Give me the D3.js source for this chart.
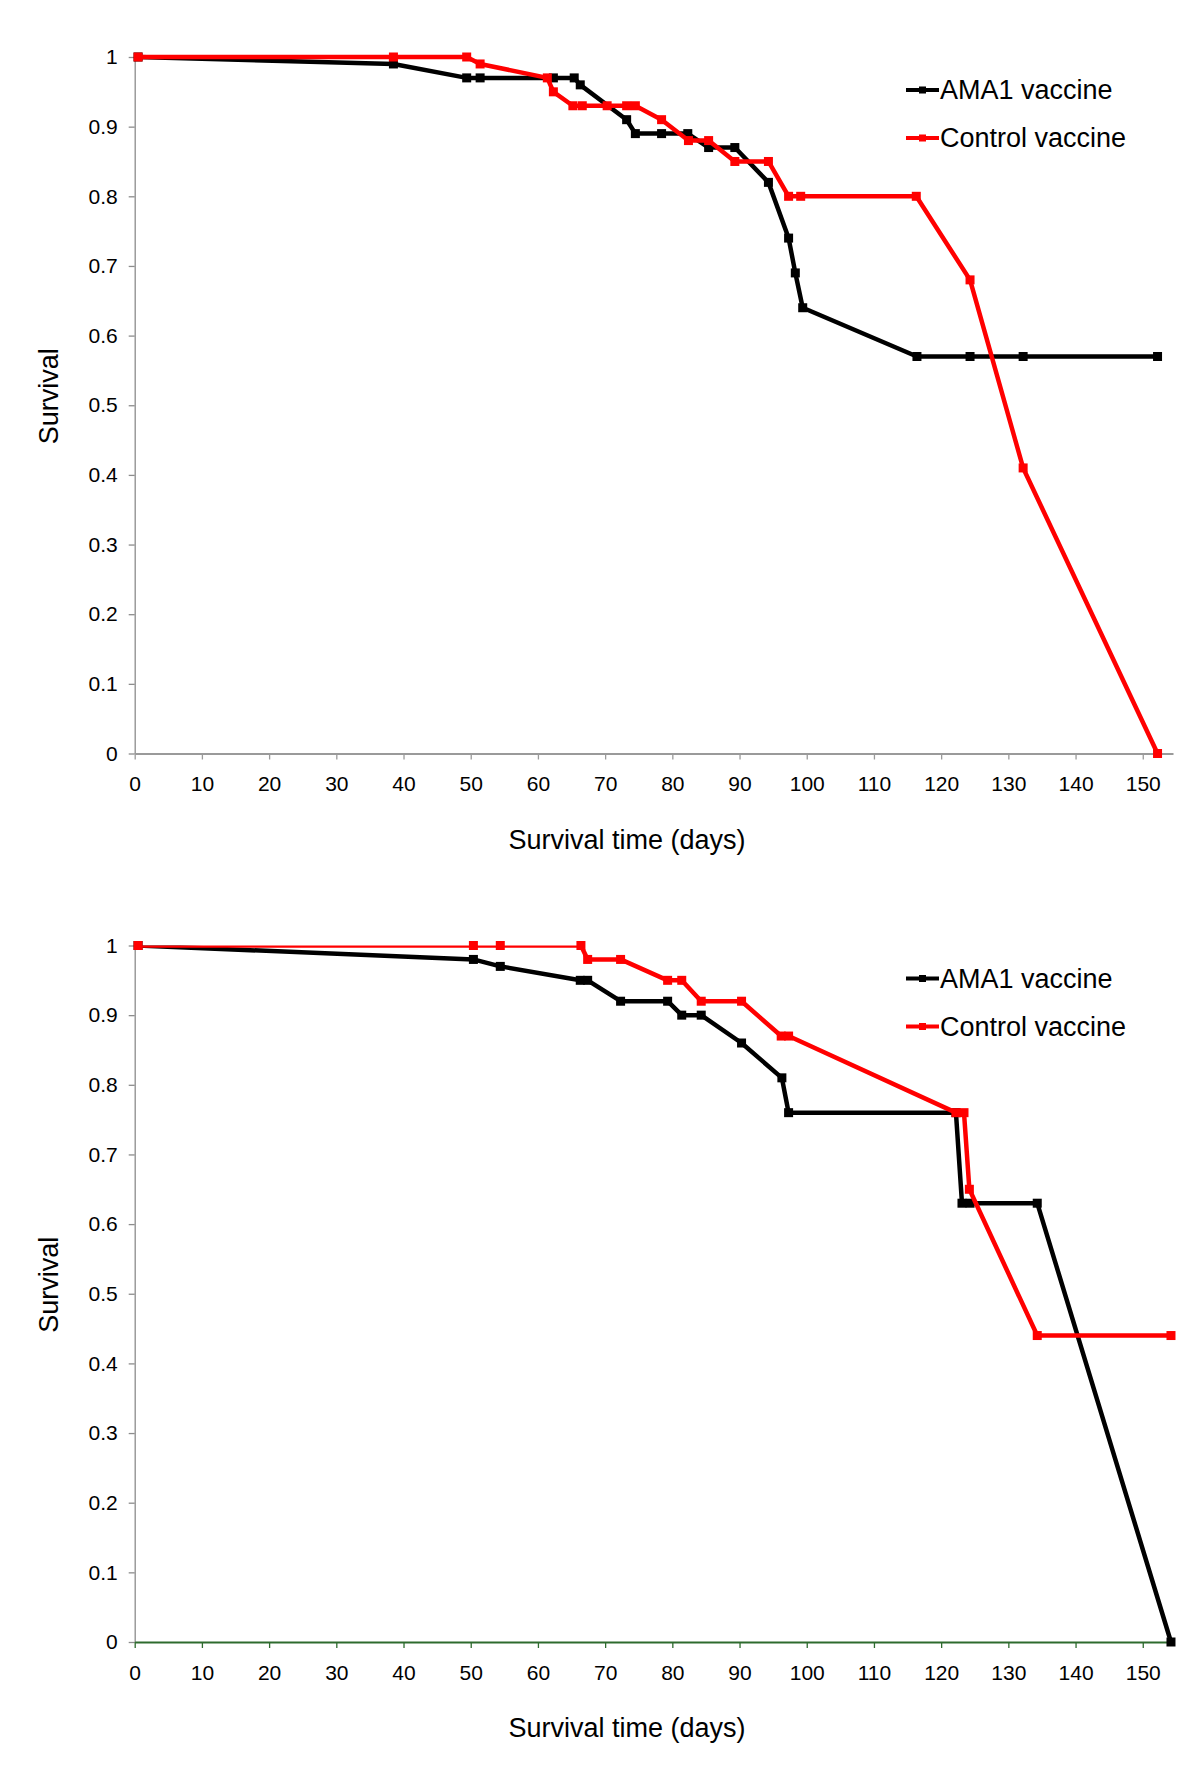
<!DOCTYPE html>
<html>
<head>
<meta charset="utf-8">
<script src="https://cdn.jsdelivr.net/npm/d3@7"></script>
<style>
  body { margin: 0; background: #fff; }
  svg { display: block; font-family: Arial, 'Liberation Sans', sans-serif; }
</style>
</head>
<body>
<svg id="km-chart" width="1200" height="1783"></svg>
<script>
// survival data
const ama1Days1 = [0.5, 38.5, 49.4, 51.4, 62.3, 65.4, 66.3, 73.2, 74.5, 78.4, 82.3, 85.4, 89.3, 94.3, 97.3, 98.3, 99.4, 116.4, 124.3, 132.2, 152.2];
const ama1Surv1 = [1, 0.99, 0.97, 0.97, 0.97, 0.97, 0.96, 0.91, 0.89, 0.89, 0.89, 0.87, 0.87, 0.82, 0.74, 0.69, 0.64, 0.57, 0.57, 0.57, 0.57];
const controlDays1 = [0.5, 38.5, 49.4, 51.4, 61.4, 62.3, 65.2, 66.6, 70.3, 73.2, 74.5, 78.4, 82.4, 85.4, 89.3, 94.3, 97.3, 99.1, 116.3, 124.3, 132.2, 152.2];
const controlSurv1 = [1, 1, 1, 0.99, 0.97, 0.95, 0.93, 0.93, 0.93, 0.93, 0.93, 0.91, 0.88, 0.88, 0.85, 0.85, 0.8, 0.8, 0.8, 0.68, 0.41, 0];

const ama1Days2 = [0.5, 50.4, 54.4, 66.3, 67.4, 72.3, 79.3, 81.4, 84.3, 90.3, 96.3, 97.3, 122.2, 123.1, 124.3, 134.3, 154.2];
const ama1Surv2 = [1, 0.98, 0.97, 0.95, 0.95, 0.92, 0.92, 0.9, 0.9, 0.86, 0.81, 0.76, 0.76, 0.63, 0.63, 0.63, 0];
const controlDays2 = [0.5, 50.4, 54.4, 66.4, 67.4, 72.3, 79.3, 81.4, 84.3, 90.3, 96.2, 97.3, 122.2, 123.4, 124.2, 134.3, 154.2];
const controlSurv2 = [1, 1, 1, 1, 0.98, 0.98, 0.95, 0.95, 0.92, 0.92, 0.87, 0.87, 0.76, 0.76, 0.65, 0.44, 0.44];

const seriesNames = ['AMA1 vaccine', 'Control vaccine'];
const seriesColors = ['#000000', '#ff0000'];
const xTicks = [0, 10, 20, 30, 40, 50, 60, 70, 80, 90, 100, 110, 120, 130, 140, 150];
const yTicks = [0, 0.1, 0.2, 0.3, 0.4, 0.5, 0.6, 0.7, 0.8, 0.9, 1];
const yTickLabels = ['0', '0.1', '0.2', '0.3', '0.4', '0.5', '0.6', '0.7', '0.8', '0.9', '1'];

const svg = d3.select('#km-chart');

const x = d3.scaleLinear().domain([0, 154.5]).range([134.7, 1173]);

const zip = (days, surv) => days.map((d, i) => ({ day: d, surv: surv[i] }));

function drawPanel(id, top, bottom, series, xAxisColor, clipTop) {
  const y = d3.scaleLinear().domain([0, 1]).range([bottom, top]);
  const g = svg.append('g').attr('class', 'panel-' + id);

  // y axis
  const yAxis = g
    .append('g')
    .attr('transform', `translate(${x(0)},0)`)
    .call(
      d3.axisLeft(y)
        .tickValues(yTicks)
        .tickFormat((d, i) => yTickLabels[i])
        .tickSize(6)
        .tickSizeOuter(0)
        .tickPadding(11)
    );
  yAxis.select('.domain').attr('stroke', '#8c8c8c').attr('stroke-width', 1.3);
  yAxis.selectAll('.tick line').attr('stroke', '#8c8c8c').attr('stroke-width', 1.3);
  yAxis.selectAll('.tick text').attr('font-size', 21).attr('fill', '#000');

  // x axis
  const xAxis = g
    .append('g')
    .attr('transform', `translate(0,${bottom})`)
    .call(
      d3.axisBottom(x)
        .tickValues(xTicks)
        .tickSize(6)
        .tickSizeOuter(0)
        .tickPadding(17)
    );
  xAxis.select('.domain').attr('stroke', xAxisColor).attr('stroke-width', 2);
  xAxis.selectAll('.tick line').attr('stroke', xAxisColor).attr('stroke-width', 1.3);
  xAxis.selectAll('.tick text').attr('font-size', 21).attr('fill', '#000');

  // axis titles
  g.append('text')
    .attr('x', 627)
    .attr('y', bottom + 95)
    .attr('text-anchor', 'middle')
    .attr('font-size', 27)
    .text('Survival time (days)');

  g.append('text')
    .attr('transform', `translate(49,${(top + bottom) / 2 - 9}) rotate(-90)`)
    .attr('text-anchor', 'middle')
    .attr('dominant-baseline', 'central')
    .attr('font-size', 27)
    .text('Survival');

  // clip region, bottom panel line at 1 is cut in half in the original
  const clipId = 'clip-' + id;
  g.append('clipPath')
    .attr('id', clipId)
    .append('rect')
    .attr('x', 0)
    .attr('y', clipTop ? top : 0)
    .attr('width', 1200)
    .attr('height', 1783);

  const line = d3
    .line()
    .x((d) => x(d.day))
    .y((d) => y(d.surv));

  series.forEach((s, k) => {
    g.append('path')
      .datum(s)
      .attr('fill', 'none')
      .attr('stroke', seriesColors[k])
      .attr('stroke-width', 4.5)
      .attr('stroke-linejoin', 'round')
      .attr('clip-path', `url(#${clipId})`)
      .attr('d', line);

    g.append('g')
      .selectAll('rect')
      .data(s)
      .enter()
      .append('rect')
      .attr('x', (d) => x(d.day) - 4.5)
      .attr('y', (d) => y(d.surv) - 4.5)
      .attr('width', 9)
      .attr('height', 9)
      .attr('fill', seriesColors[k]);
  });

  // legend
  const legend = g.append('g').attr('class', 'legend');
  seriesNames.forEach((name, k) => {
    const ly = top + 33 + k * 48;
    legend
      .append('line')
      .attr('x1', 906)
      .attr('x2', 939)
      .attr('y1', ly)
      .attr('y2', ly)
      .attr('stroke', seriesColors[k])
      .attr('stroke-width', 4);
    legend
      .append('rect')
      .attr('x', 919)
      .attr('y', ly - 3.5)
      .attr('width', 7)
      .attr('height', 7)
      .attr('fill', seriesColors[k]);
    legend
      .append('text')
      .attr('x', 940)
      .attr('y', ly)
      .attr('dominant-baseline', 'central')
      .attr('font-size', 27)
      .text(name);
  });
}

drawPanel(
  'top',
  57,
  753.5,
  [zip(ama1Days1, ama1Surv1), zip(controlDays1, controlSurv1)],
  '#9a9a9a',
  false
);
drawPanel(
  'bottom',
  945.5,
  1642,
  [zip(ama1Days2, ama1Surv2), zip(controlDays2, controlSurv2)],
  '#2e6b2e',
  true
);
</script>
</body>
</html>
